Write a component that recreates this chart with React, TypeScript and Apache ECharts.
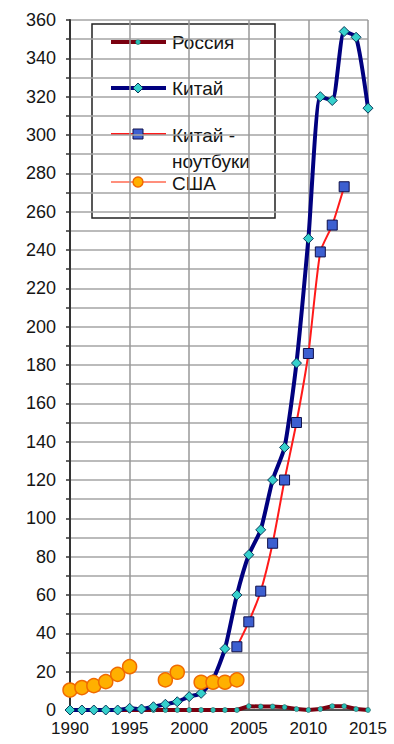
import React, { useEffect, useRef } from "react";
import * as echarts from "echarts";

const years = [1990, 1991, 1992, 1993, 1994, 1995, 1996, 1997, 1998, 1999, 2000, 2001, 2002, 2003, 2004, 2005, 2006, 2007, 2008, 2009, 2010, 2011, 2012, 2013, 2014, 2015];
const russia = [0, 0, 0, 0, 0, 0, 0, 0, 0, 0, 0, 0, 0, 0, 0, 2, 1.8, 1.8, 1.5, 0.5, 0, 0.5, 2, 2, 0.5, 0];
const china = [0, 0, 0, 0, 0, 0.9, 0.5, 1.7, 3, 4.3, 7, 8.7, 16, 32, 60, 81, 94, 120, 137, 181, 246, 320, 318, 354, 351, 314];
const chinaLaptops: (number | null)[] = [null, null, null, null, null, null, null, null, null, null, null, null, null, null, 33, 46, 62, 87, 120, 150, 186, 239, 253, 273, null, null];
const usa: (number | null)[] = [10.4, 11.7, 12.7, 14.8, 18.6, 22.6, null, null, 15.7, 19.7, null, 14.5, 14.5, 14.5, 15.7, null, null, null, null, null, null, null, null, null, null, null];
const seriesNames = ["Россия", "Китай", "Китай -", "ноутбуки", "США"];

const pair = (arr: (number | null)[]) => years.map((y, i) => [y, arr[i]]);

export default function App() {
  const ref = useRef<HTMLDivElement>(null);
  useEffect(() => {
    if (!ref.current) return;
    const chart = echarts.init(ref.current, null, { renderer: "svg" });
    const font = "'Liberation Sans', Arial, sans-serif";
    const lx1 = 111, lx2 = 166, mx = 138, tx = 172;
    const txt = "#151515";
    const lf = `19px ${font}`;
    chart.setOption({
      animation: false,
      backgroundColor: "#ffffff",
      grid: { left: 70, right: 26, top: 20, bottom: 34 },
      xAxis: {
        type: "value",
        min: 1990,
        max: 2015,
        interval: 5,
        axisLine: { show: true, onZero: false, lineStyle: { color: "#333", width: 1.5 } },
        axisTick: { show: false },
        axisLabel: { color: txt, fontSize: 17, fontFamily: font, margin: 10, formatter: (v: number) => String(v) },
        splitLine: { show: true, lineStyle: { color: "#999", width: 1.5 } },
      },
      yAxis: {
        type: "value",
        min: 0,
        max: 360,
        interval: 10,
        axisLine: { show: true, lineStyle: { color: "#333", width: 2 } },
        axisTick: { show: true, length: 4, lineStyle: { color: "#333", width: 1.5 } },
        axisLabel: {
          color: txt,
          fontSize: 18,
          fontFamily: font,
          margin: 14,
          formatter: (v: number) => (v % 20 === 0 ? String(v) : ""),
        },
        splitLine: { show: true, lineStyle: { color: "#a5a5a5", width: 1.5 } },
      },
      series: [
        {
          name: seriesNames[0],
          type: "line",
          data: pair(russia),
          lineStyle: { color: "#7a0010", width: 4 },
          symbol: "circle",
          symbolSize: 5,
          itemStyle: { color: "#2bbfb5", borderColor: "#155", borderWidth: 0.5 },
          z: 2,
        },
        {
          name: seriesNames[1],
          type: "line",
          data: pair(china),
          smooth: 0.2,
          lineStyle: { color: "#00007f", width: 4 },
          symbol: "diamond",
          symbolSize: 10,
          itemStyle: { color: "#35d0cc", borderColor: "#0a3a5a", borderWidth: 1 },
          z: 3,
        },
        {
          name: "Китай - ноутбуки",
          type: "line",
          data: pair(chinaLaptops),
          smooth: 0.2,
          lineStyle: { color: "#ff1a1a", width: 2 },
          symbol: "rect",
          symbolSize: 10,
          itemStyle: { color: "#3d5fd0", borderColor: "#10104a", borderWidth: 1 },
          z: 4,
        },
        {
          name: seriesNames[4],
          type: "line",
          data: pair(usa),
          connectNulls: false,
          lineStyle: { color: "#ff6a50", width: 1.5 },
          symbol: "circle",
          symbolSize: 14,
          itemStyle: { color: "#ffb000", borderColor: "#f06a00", borderWidth: 1.5 },
          z: 5,
        },
      ],
      graphic: [
        {
          type: "group",
          z: 100,
          children: [
            { type: "rect", shape: { x: 92, y: 24, width: 183, height: 194 }, style: { fill: "#fff", stroke: "#222", lineWidth: 1.5 } },
            { type: "line", shape: { x1: lx1, y1: 42, x2: lx2, y2: 42 }, style: { stroke: "#7a0010", lineWidth: 4 } },
            { type: "circle", shape: { cx: mx, cy: 42, r: 2.5 }, style: { fill: "#2bbfb5", stroke: "#155", lineWidth: 0.5 } },
            { type: "text", x: tx, y: 42, style: { text: seriesNames[0], font: lf, fill: txt, verticalAlign: "middle" } },
            { type: "line", shape: { x1: lx1, y1: 88, x2: lx2, y2: 88 }, style: { stroke: "#00007f", lineWidth: 4 } },
            { type: "polygon", shape: { points: [[mx, 83], [mx + 5, 88], [mx, 93], [mx - 5, 88]] }, style: { fill: "#35d0cc", stroke: "#0a3a5a", lineWidth: 1 } },
            { type: "text", x: tx, y: 88, style: { text: seriesNames[1], font: lf, fill: txt, verticalAlign: "middle" } },
            { type: "line", shape: { x1: lx1, y1: 134, x2: lx2, y2: 134 }, style: { stroke: "#ff1a1a", lineWidth: 2 } },
            { type: "rect", shape: { x: mx - 5, y: 129, width: 10, height: 10 }, style: { fill: "#3d5fd0", stroke: "#10104a", lineWidth: 1 } },
            { type: "text", x: tx, y: 135, style: { text: seriesNames[2], font: lf, fill: txt, verticalAlign: "middle" } },
            { type: "text", x: tx, y: 161, style: { text: seriesNames[3], font: lf, fill: txt, verticalAlign: "middle" } },
            { type: "line", shape: { x1: lx1, y1: 182, x2: lx2, y2: 182 }, style: { stroke: "#ff6a50", lineWidth: 1.5 } },
            { type: "circle", shape: { cx: mx, cy: 182, r: 5 }, style: { fill: "#ffb000", stroke: "#f06a00", lineWidth: 1.5 } },
            { type: "text", x: tx, y: 183, style: { text: seriesNames[4], font: lf, fill: txt, verticalAlign: "middle" } },
          ],
        },
      ],
    });
    return () => chart.dispose();
  }, []);
  return <div ref={ref} style={{ position: "fixed", left: 0, top: 0, width: 394, height: 744, background: "#fff" }} />;
}
